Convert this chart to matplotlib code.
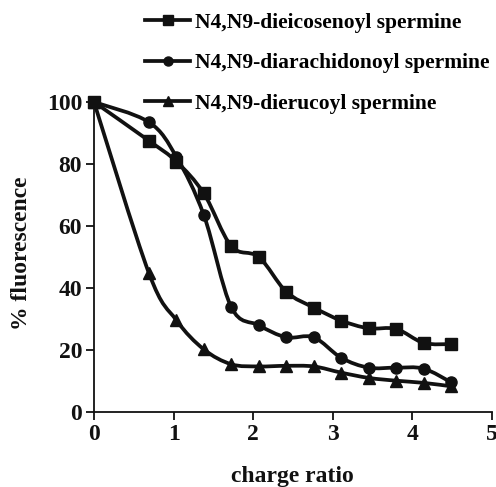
import numpy as np
import matplotlib
matplotlib.use("Agg")
import matplotlib.pyplot as plt
from matplotlib.path import Path
from matplotlib.patches import PathPatch
from matplotlib.lines import Line2D

charge_ratio = [0, 0.69, 1.035, 1.38, 1.725, 2.07, 2.415, 2.76, 3.105, 3.45, 3.795, 4.14, 4.485]
dieicosenoyl = [100, 87.5, 80.8, 70.5, 53.5, 50.0, 38.8, 33.7, 29.5, 27.0, 26.8, 22.3, 21.9]
diarachidonoyl = [100, 93.5, 82.3, 63.5, 33.8, 28.0, 24.1, 24.1, 17.5, 14.3, 14.3, 14.0, 9.6]
dierucoyl = [100, 44.8, 29.6, 20.2, 15.4, 14.7, 14.9, 14.7, 12.7, 11.0, 10.1, 9.4, 8.3]

labels = ["N4,N9-dieicosenoyl spermine",
          "N4,N9-diarachidonoyl spermine",
          "N4,N9-dierucoyl spermine"]
markers = ["s", "o", "^"]
series = [dieicosenoyl, diarachidonoyl, dierucoyl]

xticks = [0, 1, 2, 3, 4, 5]
yticks = [0, 20, 40, 60, 80, 100]

plt.rcParams['font.family'] = ['Liberation Serif', 'DejaVu Serif']
plt.rcParams['font.weight'] = 'bold'

fig = plt.figure(figsize=(4.96, 4.87), dpi=100)
ax = fig.add_axes([94 / 496, 1 - 412 / 487, (492 - 94) / 496, (412 - 102) / 487])


def smooth_path(x, y):
    pts = np.column_stack([x, y]).astype(float)
    n = len(pts)
    verts = [pts[0]]
    codes = [Path.MOVETO]
    for i in range(n - 1):
        p0 = pts[i - 1] if i > 0 else pts[i]
        p1 = pts[i]
        p2 = pts[i + 1]
        p3 = pts[i + 2] if i + 2 < n else pts[i + 1]
        c1 = p1 + (p2 - p0) / 6.0
        c2 = p2 - (p3 - p1) / 6.0
        verts += [c1, c2, p2]
        codes += [Path.CURVE4] * 3
    return Path(verts, codes)


ink = '#111111'
lw = 2.7
ms = [8, 8, 8.5]
handles = []
for ys, m, s, lab in zip(series, markers, ms, labels):
    patch = PathPatch(smooth_path(charge_ratio, ys), facecolor='none',
                      edgecolor=ink, lw=lw, clip_on=False, zorder=2)
    ax.add_patch(patch)
    ax.plot(charge_ratio, ys, linestyle='none', marker=m, markersize=s,
            color=ink, clip_on=False, zorder=3)
    handles.append(Line2D([], [], color=ink, lw=lw, marker=m,
                          markersize=s - 1.5))

ax.set_xlim(0, 5)
ax.set_ylim(0, 100)
ax.set_xticks(xticks)
ax.set_yticks(yticks)
ax.spines['top'].set_visible(False)
ax.spines['right'].set_visible(False)
for sp in ['left', 'bottom']:
    ax.spines[sp].set_linewidth(1.3)
    ax.spines[sp].set_color(ink)
ax.tick_params(axis='both', direction='out', length=5.5, width=1.3,
               labelsize=17, color=ink, labelcolor=ink)
ax.tick_params(axis='x', pad=3)
ax.tick_params(axis='y', pad=3)
for t in ax.get_xticklabels() + ax.get_yticklabels():
    t.set_fontweight('bold')

fig.text(292 / 496, 1 - 482 / 487, "charge ratio", fontsize=17,
         fontweight='bold', ha='center', va='baseline', color=ink)
fig.text(22 / 496, 1 - 253 / 487, "% fluorescence", fontsize=17,
         fontweight='bold', ha='center', va='center', rotation=90, color=ink)

fig.legend(handles, labels, loc='upper left', bbox_to_anchor=(145 / 496, 0.974),
           frameon=False, handlelength=2.1, handletextpad=0.23,
           labelspacing=0.95, borderpad=0, borderaxespad=0,
           prop={'weight': 'bold', 'size': 15.5})

fig.savefig("out.png", dpi=100)
